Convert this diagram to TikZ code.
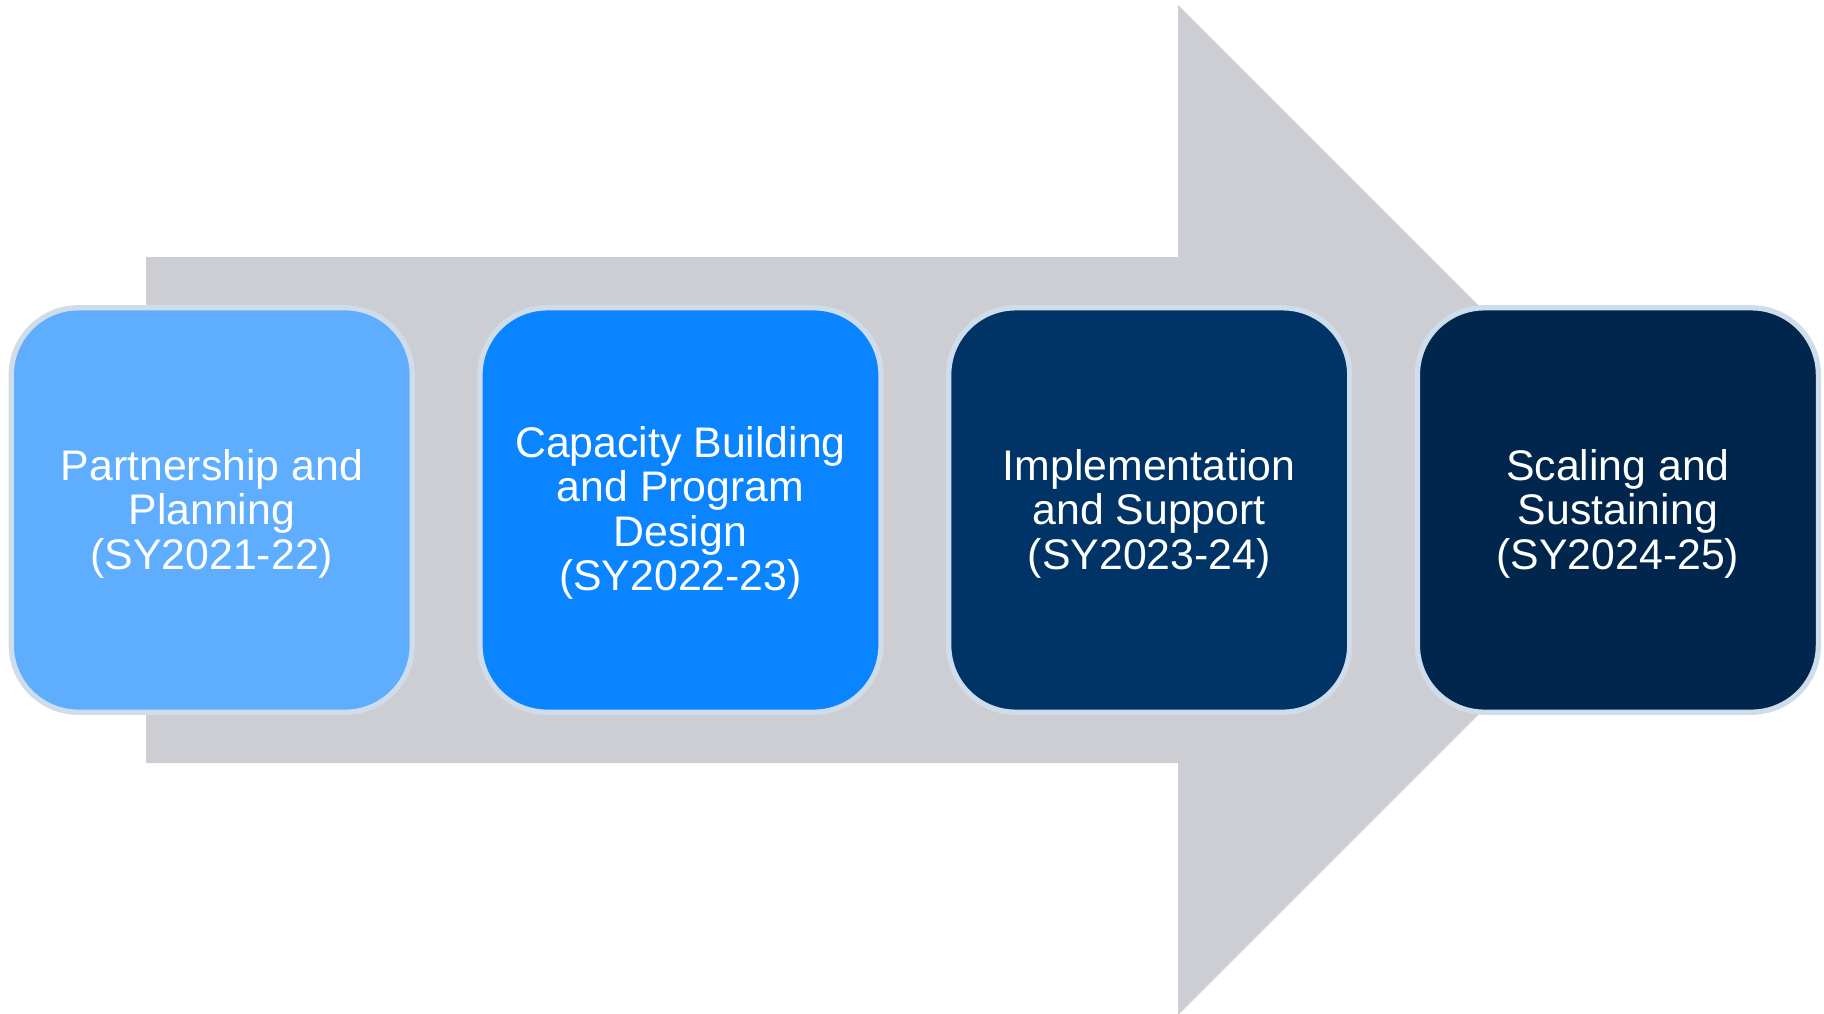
\documentclass[tikz,border=0pt]{standalone}
\usepackage{fontspec}
\setmainfont{Liberation Sans}
\definecolor{arrowgray}{HTML}{CDCED3}
\definecolor{edgeblue}{HTML}{CFDCE9}
\definecolor{phaseA}{HTML}{5EADFE}
\definecolor{phaseB}{HTML}{0A84FF}
\definecolor{phaseC}{HTML}{003366}
\definecolor{phaseD}{HTML}{00264D}
\tikzset{
  phasebox/.style={draw=edgeblue, line width=5.3pt, rounded corners=67pt,
    minimum width=401pt, minimum height=404.4pt, inner sep=0pt},
  phasetext/.style={text=white, align=center, inner sep=0pt,
    font=\fontsize{42.8}{44.5}\selectfont},
}
\begin{document}
\begin{tikzpicture}[x=1pt,y=-1pt]
\useasboundingbox (0,0) rectangle (1824,1013);
\begin{scope}
\clip (0,0) rectangle (1824,1013);
\fill[arrowgray] (146,257) -- (1178,257) -- (1178,5) -- (1683,510)
  -- (1178,1015) -- (1178,763) -- (146,763) -- cycle;
\end{scope}
\node[phasebox, fill=phaseA] (p1) at (211.8,510) {};
\node[phasebox, fill=phaseB] (p2) at (680.5,510) {};
\node[phasebox, fill=phaseC] (p3) at (1149.2,510) {};
\node[phasebox, fill=phaseD] (p4) at (1617.9,510) {};
\node[phasetext] (t1) at ([yshift=-3.5pt]p1.center) {Partnership and\\Planning\\(SY2021-22)};
\node[phasetext] (t2) at ([yshift=-3pt]p2.center) {Capacity Building\\and Program\\Design\\(SY2022-23)};
\node[phasetext] (t3) at ([yshift=-3.5pt]p3.center) {Implementation\\and Support\\(SY2023-24)};
\node[phasetext] (t4) at ([yshift=-3.5pt]p4.center) {Scaling and\\Sustaining\\(SY2024-25)};
\end{tikzpicture}
\end{document}
